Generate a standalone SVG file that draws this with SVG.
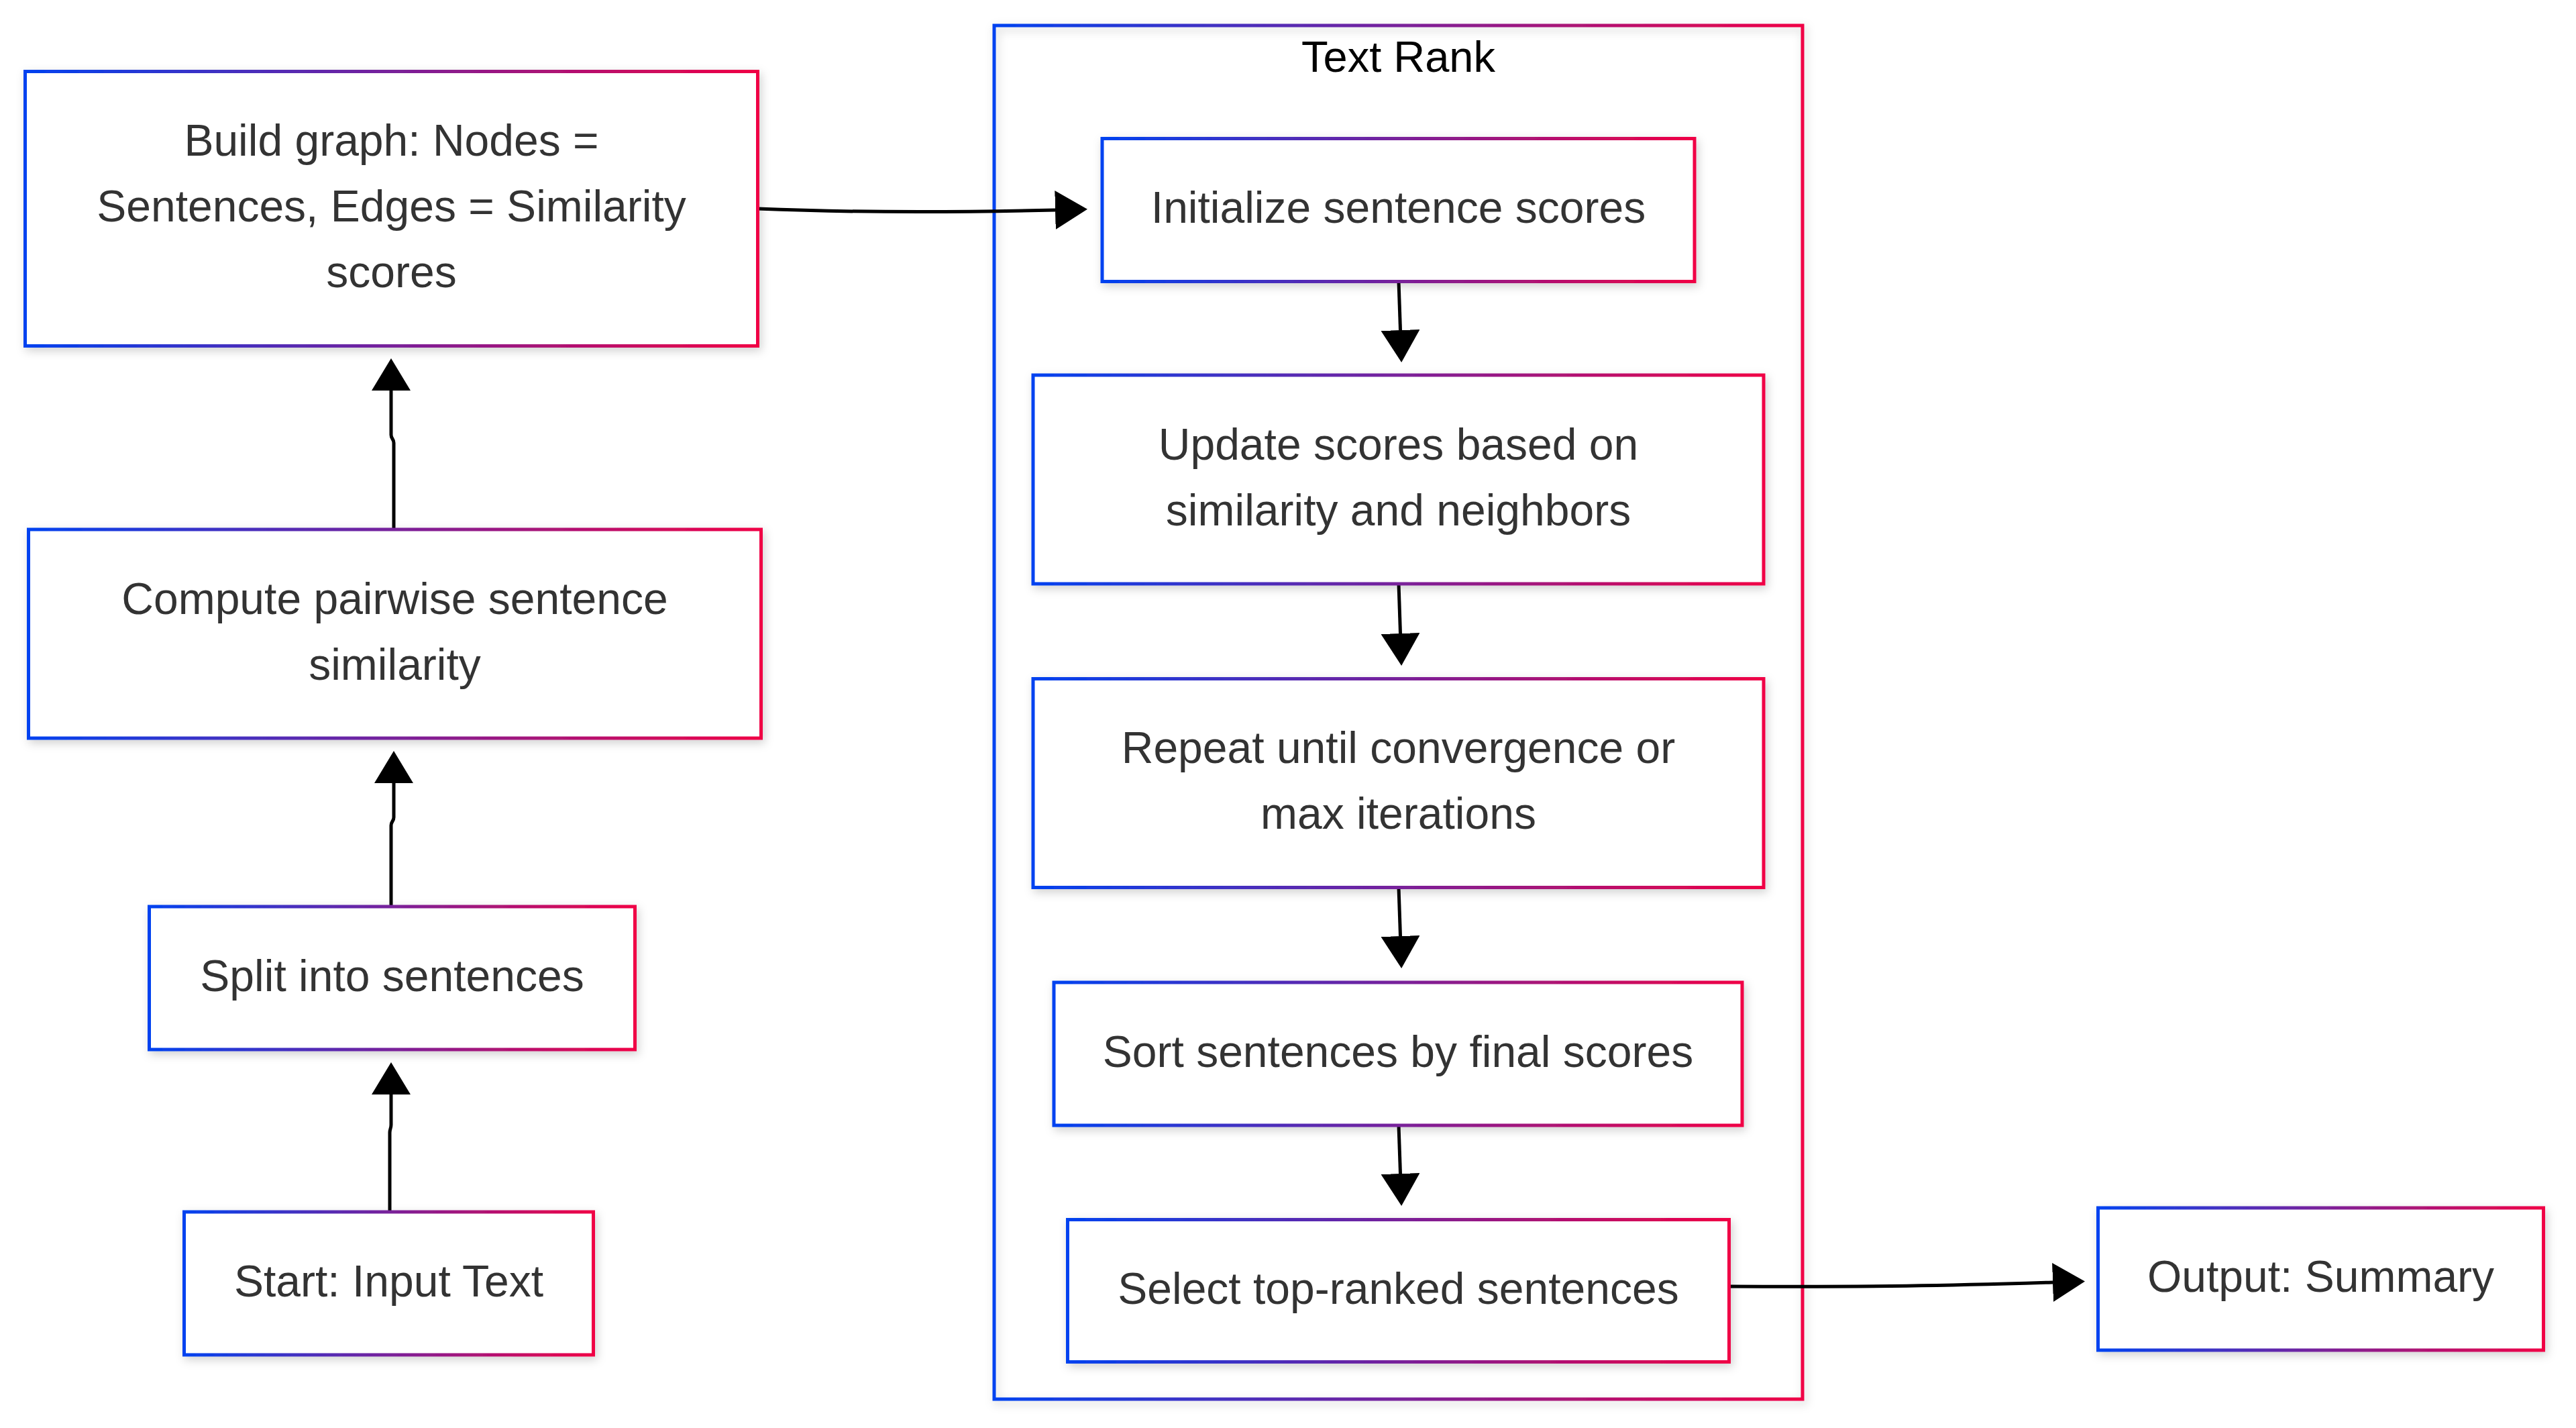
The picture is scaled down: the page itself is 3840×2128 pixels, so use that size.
<svg xmlns="http://www.w3.org/2000/svg" width="3840" height="2128" viewBox="0 0 3840 2128">
<style>
.node rect{fill:#fff;stroke:url(#grad);stroke-width:5;filter:url(#shadow)}
.cluster rect{fill:none;stroke:url(#grad);stroke-width:5;filter:url(#shadow)}
text{font-family:"Liberation Sans",Arial,Helvetica,sans-serif;font-size:66px;text-anchor:middle;fill:#333}
.title{fill:#000;font-size:65px}
.edge{fill:none;stroke:#000;stroke-width:5;marker-end:url(#arrow)}
</style>
<defs>
<linearGradient id="grad" x1="0" y1="0" x2="1" y2="0">
<stop offset="0" stop-color="#0042f0"/>
<stop offset="1" stop-color="#f00045"/>
</linearGradient>
<filter id="shadow" x="-10%" y="-10%" width="120%" height="130%">
<feDropShadow dx="3" dy="5" stdDeviation="7" flood-color="#000" flood-opacity="0.18"/>
</filter>
<marker id="arrow" markerUnits="userSpaceOnUse" markerWidth="48" markerHeight="58" viewBox="0 0 48 58" refX="0" refY="29" orient="auto">
<path d="M0,0 L48,29 L0,58 z" fill="#000"/>
</marker>
</defs>
<rect width="3840" height="2128" fill="#fff"/>
<g id="cluster-textrank" class="cluster">
<rect x="1482" y="38" width="1205" height="2047"/>
<text class="title" x="2084.5" y="107">Text Rank</text>
</g>
<g id="connectors">
<path class="edge" d="M581,1806 L581,1688 C581,1682 583,1682 583,1676 L583,1631"/>
<path class="edge" d="M583,1351 L583,1230 C583,1224 587,1224 587,1218 L587,1167"/>
<path class="edge" d="M587,789 L587,660 C587,654 583,654 583,648 L583,582"/>
<path class="edge" d="M1129.5,311 C1300,318 1450,316 1573,313"/>
<path class="edge" d="M2085,419.5 L2087.5,492"/>
<path class="edge" d="M2085,870 L2087.5,944"/>
<path class="edge" d="M2085,1322.5 L2087.5,1395"/>
<path class="edge" d="M2085,1677 L2087.5,1749"/>
<path class="edge" d="M2577.5,1917 C2800,1918 2900,1916 3060,1911"/>
</g>
<g id="node-start" class="node">
<rect x="274.5" y="1806" width="610" height="213"/>
<text x="579.5" y="1931.5">Start: Input Text</text>
</g>
<g id="node-split" class="node">
<rect x="222.5" y="1351" width="724" height="213"/>
<text x="584.5" y="1476.5">Split into sentences</text>
</g>
<g id="node-compute" class="node">
<rect x="42.5" y="789" width="1092" height="311"/>
<text x="588.5" y="914.5">Compute pairwise sentence</text>
<text x="588.5" y="1012.5">similarity</text>
</g>
<g id="node-build" class="node">
<rect x="37.5" y="106.5" width="1092" height="409"/>
<text x="583.5" y="232">Build graph: Nodes =</text>
<text x="583.5" y="330">Sentences, Edges = Similarity</text>
<text x="583.5" y="428">scores</text>
</g>
<g id="node-init" class="node">
<rect x="1643" y="206.5" width="883" height="213"/>
<text x="2084.5" y="332">Initialize sentence scores</text>
</g>
<g id="node-update" class="node">
<rect x="1540" y="559" width="1089" height="311"/>
<text x="2084.5" y="684.5">Update scores based on</text>
<text x="2084.5" y="782.5">similarity and neighbors</text>
</g>
<g id="node-repeat" class="node">
<rect x="1540" y="1011.5" width="1089" height="311"/>
<text x="2084.5" y="1137">Repeat until convergence or</text>
<text x="2084.5" y="1235">max iterations</text>
</g>
<g id="node-sort" class="node">
<rect x="1571" y="1464" width="1026" height="213"/>
<text x="2084" y="1589.5">Sort sentences by final scores</text>
</g>
<g id="node-select" class="node">
<rect x="1591.5" y="1817.5" width="986" height="212"/>
<text x="2084.5" y="1942.5">Select top-ranked sentences</text>
</g>
<g id="node-output" class="node">
<rect x="3127.5" y="1800" width="664" height="212"/>
<text x="3459.5" y="1925">Output: Summary</text>
</g>
</svg>
